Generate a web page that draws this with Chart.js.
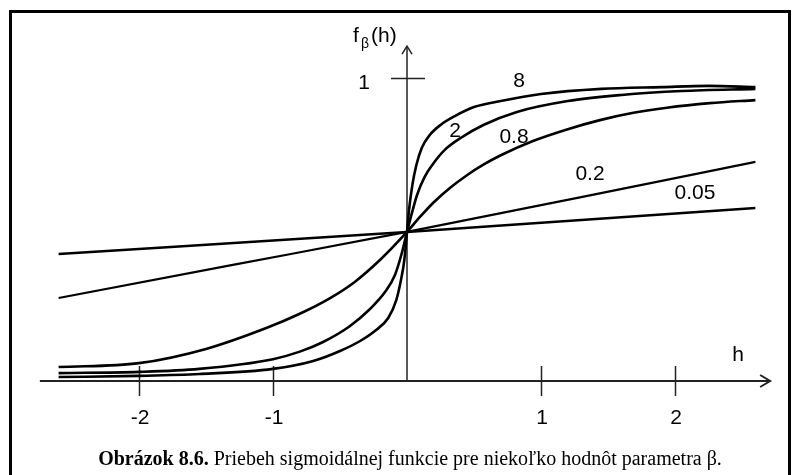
<!DOCTYPE html>
<html>
<head>
<meta charset="utf-8">
<script src="https://cdn.jsdelivr.net/npm/chart.js@4.4.1/dist/chart.umd.min.js"></script>
<style>
  html, body { margin: 0; padding: 0; background: #fff; }
  #wrap { position: relative; width: 800px; height: 475px; }
  canvas { display: block; }
  #caption {
    position: absolute; left: 0; width: 820px; top: 447px;
    text-align: center; font-family: "Liberation Serif", "Times New Roman", serif;
    font-size: 20px; color: #000; white-space: nowrap;
  }
</style>
</head>
<body>
<div id="wrap">
  <canvas id="sigmoidChart" width="800" height="475"></canvas>
  <div id="caption"><b>Obrázok 8.6.</b> Priebeh sigmoidálnej funkcie pre niekoľko hodnôt parametra β.</div>
</div>
<script>
// curve names (beta)
const betaLabels = ["8", "2", "0.8", "0.2", "0.05"];

// points: h and f(h)
const h8 = [-2.6, -2.0, -1.55, -1.0, -0.7, -0.5, -0.35, -0.24, -0.14, -0.08, -0.045, -0.02, 0,
  0.015, 0.04, 0.07, 0.11, 0.17, 0.25, 0.36, 0.5, 0.7, 1.0, 1.45, 1.9, 2.25, 2.6];
const f8 = [0.013, 0.017, 0.023, 0.040, 0.066, 0.099, 0.132, 0.165, 0.208, 0.267, 0.333, 0.399, 0.492,
  0.564, 0.647, 0.713, 0.769, 0.812, 0.845, 0.875, 0.904, 0.924, 0.947, 0.964, 0.970, 0.974, 0.970];

const h2 = [-2.6, -2.0, -1.55, -1.0, -0.8, -0.63, -0.43, -0.28, -0.16, -0.09, -0.04, 0,
  0.04, 0.075, 0.13, 0.19, 0.28, 0.4, 0.57, 0.82, 1.2, 1.6, 2.05, 2.6];
const f2 = [0.026, 0.030, 0.040, 0.072, 0.097, 0.128, 0.180, 0.236, 0.296, 0.350, 0.420, 0.492,
  0.560, 0.614, 0.672, 0.714, 0.762, 0.802, 0.845, 0.888, 0.924, 0.944, 0.957, 0.964];

const h08 = [-2.6, -2.0, -1.5, -1.05, -0.8, -0.58, -0.39, -0.2, 0,
  0.1, 0.2, 0.32, 0.45, 0.57, 0.7, 0.94, 1.2, 1.44, 1.69, 1.94, 2.26, 2.6];
const f08 = [0.046, 0.059, 0.106, 0.175, 0.222, 0.272, 0.327, 0.400, 0.492,
  0.543, 0.590, 0.637, 0.680, 0.714, 0.745, 0.792, 0.831, 0.861, 0.885, 0.902, 0.917, 0.927];

const h02 = [-2.6, -1.3, 0, 1.3, 2.6];
const f02 = [0.274, 0.383, 0.492, 0.607, 0.723];

const h005 = [-2.6, 0, 2.6];
const f005 = [0.419, 0.492, 0.571];

// axis ticks
const xTicks = [-2, -1, 1, 2];
const xTickLabels = ["-2", "-1", "1", "2"];
const yTicks = [1];
const yTickLabels = ["1"];

const toPoints = (hs, fs) => hs.map((h, i) => ({ x: h, y: fs[i] }));

const curve = (label, hs, fs, width) => ({
  label: label,
  data: toPoints(hs, fs),
  borderColor: "#000",
  borderWidth: width,
  pointRadius: 0,
  fill: false,
  cubicInterpolationMode: "monotone",
});

const labelFont = '21px "Liberation Sans", Arial, sans-serif';

// frame, axes with arrows, ticks and texts
const axesPlugin = {
  id: "axesPlugin",
  beforeDatasetsDraw(chart) {
    const { ctx, scales: { x, y } } = chart;
    const x0 = x.getPixelForValue(0);
    const y0 = y.getPixelForValue(0);
    ctx.save();

    // frame (open at the bottom)
    ctx.strokeStyle = "#000";
    ctx.lineWidth = 3;
    ctx.beginPath();
    ctx.moveTo(10.5, 475);
    ctx.lineTo(10.5, 11.5);
    ctx.lineTo(789.5, 11.5);
    ctx.lineTo(789.5, 475);
    ctx.stroke();

    ctx.strokeStyle = "#222";
    ctx.lineCap = "butt";

    // x axis
    const xEnd = x.getPixelForValue(2.71);
    ctx.lineWidth = 2;
    ctx.beginPath();
    ctx.moveTo(x.getPixelForValue(-2.74), y0);
    ctx.lineTo(xEnd, y0);
    ctx.stroke();
    ctx.beginPath();
    ctx.moveTo(xEnd - 10, y0 - 6);
    ctx.lineTo(xEnd, y0);
    ctx.lineTo(xEnd - 10, y0 + 6);
    ctx.stroke();

    // y axis
    const yEnd = y.getPixelForValue(1.105);
    ctx.lineWidth = 1.5;
    ctx.beginPath();
    ctx.moveTo(x0, y0);
    ctx.lineTo(x0, yEnd);
    ctx.stroke();
    ctx.beginPath();
    ctx.moveTo(x0 - 5, yEnd + 8);
    ctx.lineTo(x0, yEnd);
    ctx.lineTo(x0 + 5, yEnd + 8);
    ctx.stroke();

    // tick marks
    xTicks.forEach((t) => {
      const px = Math.round(x.getPixelForValue(t)) + 0.5;
      ctx.beginPath();
      ctx.moveTo(px, y0 - 15);
      ctx.lineTo(px, y0 + 15);
      ctx.stroke();
    });
    yTicks.forEach((t) => {
      const py = Math.round(y.getPixelForValue(t)) + 0.5;
      ctx.beginPath();
      ctx.moveTo(x0 - 16, py);
      ctx.lineTo(x0 + 18, py);
      ctx.stroke();
    });
    ctx.restore();
  },
  afterDatasetsDraw(chart) {
    const { ctx, scales: { x, y } } = chart;
    const x0 = x.getPixelForValue(0);
    const y0 = y.getPixelForValue(0);
    ctx.save();
    ctx.fillStyle = "#000";
    ctx.font = labelFont;
    ctx.textAlign = "center";
    ctx.textBaseline = "middle";

    xTicks.forEach((t, i) => {
      ctx.fillText(xTickLabels[i], x.getPixelForValue(t) + 1, y0 + 37);
    });
    yTicks.forEach((t, i) => {
      ctx.fillText(yTickLabels[i], x0 - 43, y.getPixelForValue(t) + 5);
    });

    // axis names
    ctx.fillText("h", 738, 355);
    ctx.textAlign = "left";
    ctx.textBaseline = "alphabetic";
    ctx.fillText("f", 353, 42);
    ctx.font = '14px "Liberation Sans", Arial, sans-serif';
    ctx.fillText("β", 361, 48);
    ctx.font = labelFont;
    ctx.fillText("(h)", 371, 42);

    // curve names
    const namePos = [[519, 81], [455, 131], [514, 137], [590, 174], [695, 193]];
    ctx.textAlign = "center";
    ctx.textBaseline = "middle";
    betaLabels.forEach((b, i) => {
      ctx.fillText(b, namePos[i][0], namePos[i][1]);
    });
    ctx.restore();
  },
};

// pixel mapping: h=0 at x=407, 134 px per unit; f=0 at y=381, f=1 at y=78
new Chart(document.getElementById("sigmoidChart"), {
  type: "line",
  data: {
    datasets: [
      curve(betaLabels[0], h8, f8, 2.6),
      curve(betaLabels[1], h2, f2, 2.6),
      curve(betaLabels[2], h08, f08, 2.6),
      curve(betaLabels[3], h02, f02, 2.2),
      curve(betaLabels[4], h005, f005, 2.6),
    ],
  },
  options: {
    responsive: false,
    animation: false,
    layout: { padding: 0 },
    plugins: { legend: { display: false }, tooltip: { enabled: false } },
    scales: {
      x: { type: "linear", min: -407 / 134, max: 393 / 134, display: false },
      y: { type: "linear", min: -94 / 303, max: 381 / 303, display: false },
    },
  },
  plugins: [axesPlugin],
});
</script>
</body>
</html>
